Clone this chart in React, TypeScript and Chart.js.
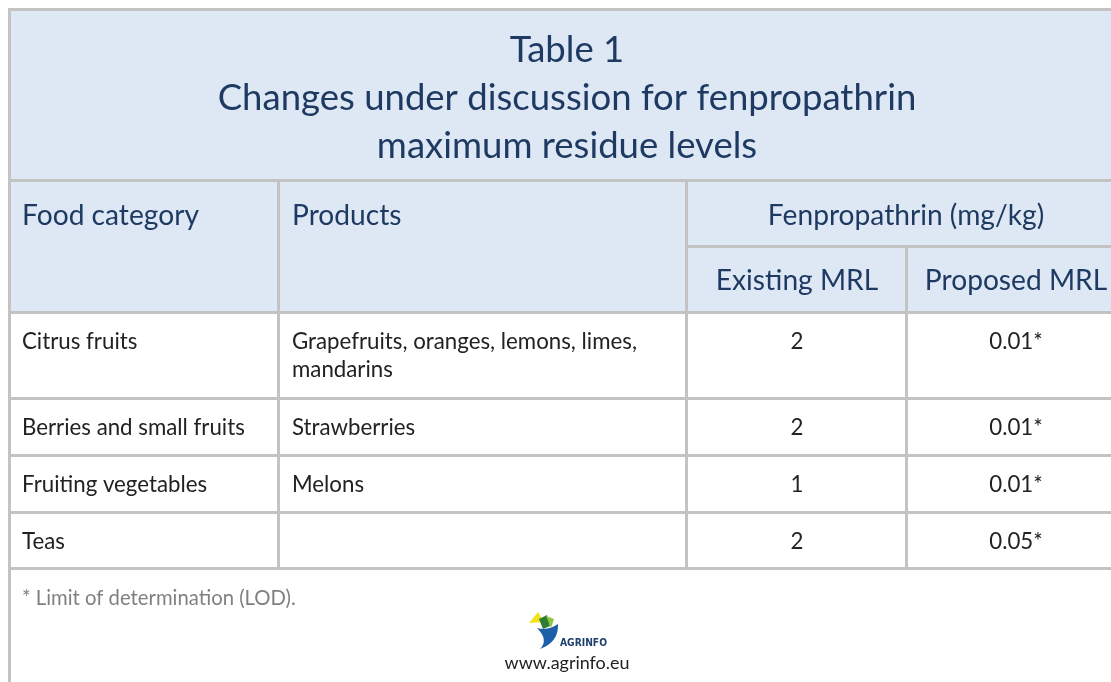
import React, { useEffect, useRef } from "react";
import { Chart, registerables } from "chart.js";

Chart.register(...registerables);

// ---- data ----
const titleLines = ["Table 1", "Changes under discussion for fenpropathrin", "maximum residue levels"];
const headerLabels = ["Food category", "Products", "Fenpropathrin (mg/kg)"];
const subHeaderLabels = ["Existing MRL", "Proposed MRL"];
const categories = ["Citrus fruits", "Berries and small fruits", "Fruiting vegetables", "Teas"];
const products = [["Grapefruits, oranges, lemons, limes,", "mandarins"], ["Strawberries"], ["Melons"], [""]];
const existingMRL = [2, 2, 1, 2];
const proposedMRL = [0.01, 0.01, 0.01, 0.05];
const proposedIsLOD = [true, true, true, true];
const footnote = "* Limit of determination (LOD).";
const logoText = "AGRINFO";
const urlText = "www.agrinfo.eu";

// ---- layout (page pixels) ----
const W = 1111;
const H = 682;
const L = {
  left: 8,
  right: 1127,
  top: 8,
  line: 3,
  titleBottom: 179,
  headerMid: 245,
  headerBottom: 311,
  rowBottoms: [397, 454, 511, 567],
  colLines: [277, 685, 905],
  textLeft: [22, 292],
  colCenters: [797, 1016],
  fenCenter: 906,
  titleCenterX: 567,
  titleY: [50, 98, 146],
  headerY: 216,
  subHeaderY: 281,
  rowTextY: [[342, 370], [428], [485], [542]],
  footY: 598,
  urlY: 663,
  logoTextX: 560,
  logoTextY: 643,
};

const FAMILY = "Lato, 'Open Sans', sans-serif";
const COLORS = {
  headerBg: "#dde8f4",
  grid: "#c3c3c3",
  navy: "#1f3a62",
  body: "#222222",
  foot: "#808080",
  url: "#222222",
};

function fitSize(ctx: CanvasRenderingContext2D, weight: string, family: string, text: string, width: number) {
  ctx.font = `${weight} 100px ${family}`;
  return (100 * width) / ctx.measureText(text).width;
}

const tablePlugin = {
  id: "tablePlugin",
  afterDraw(chart: any) {
    const ctx: CanvasRenderingContext2D = chart.ctx;
    const xs = chart.scales.x;
    const ys = chart.scales.y;
    const px = (v: number) => xs.getPixelForValue(v);
    const py = (v: number) => ys.getPixelForValue(v);
    const rect = (x0: number, y0: number, x1: number, y1: number, color: string) => {
      ctx.fillStyle = color;
      ctx.fillRect(px(x0), py(y0), px(x1) - px(x0), py(y1) - py(y0));
    };
    const poly = (pts: number[][], color: string) => {
      ctx.fillStyle = color;
      ctx.beginPath();
      pts.forEach(([a, b], i) => (i ? ctx.lineTo(px(a), py(b)) : ctx.moveTo(px(a), py(b))));
      ctx.closePath();
      ctx.fill();
    };
    ctx.save();

    // header background
    rect(L.left, L.top, L.right, L.headerBottom, COLORS.headerBg);

    // grid lines
    const g = COLORS.grid;
    const t = L.line;
    rect(L.left, L.top, L.right, L.top + t, g);
    rect(L.left, L.top, L.left + t, H, g);
    rect(L.right - t, L.top, L.right, H, g);
    rect(L.left, L.titleBottom, L.right, L.titleBottom + t, g);
    rect(L.colLines[1], L.headerMid, L.right, L.headerMid + t, g);
    rect(L.left, L.headerBottom, L.right, L.headerBottom + t, g);
    L.rowBottoms.forEach((yb) => rect(L.left, yb, L.right, yb + t, g));
    const lastRow = L.rowBottoms[L.rowBottoms.length - 1] + t;
    rect(L.colLines[0], L.titleBottom, L.colLines[0] + t, lastRow, g);
    rect(L.colLines[1], L.titleBottom, L.colLines[1] + t, lastRow, g);
    rect(L.colLines[2], L.headerMid, L.colLines[2] + t, lastRow, g);

    // text sizes fitted to the reference widths
    const titleSize = fitSize(ctx, "400", FAMILY, titleLines[1], 699);
    const headSize = fitSize(ctx, "400", FAMILY, headerLabels[0], 177);
    const bodySize = fitSize(ctx, "400", FAMILY, categories[1], 223);
    const footSize = fitSize(ctx, "400", FAMILY, footnote, 274);
    const urlSize = fitSize(ctx, "400", FAMILY, urlText, 125);
    const logoFamily = "'DejaVu Sans Condensed', 'Liberation Sans Narrow', sans-serif";
    const logoSize = fitSize(ctx, "700", logoFamily, logoText, 47);

    ctx.textBaseline = "middle";

    // title
    ctx.fillStyle = COLORS.navy;
    ctx.font = `400 ${titleSize}px ${FAMILY}`;
    ctx.textAlign = "center";
    titleLines.forEach((s, i) => ctx.fillText(s, px(L.titleCenterX), py(L.titleY[i])));

    // headers
    ctx.font = `400 ${headSize}px ${FAMILY}`;
    ctx.textAlign = "left";
    ctx.fillText(headerLabels[0], px(L.textLeft[0]), py(L.headerY));
    ctx.fillText(headerLabels[1], px(L.textLeft[1]), py(L.headerY));
    ctx.textAlign = "center";
    ctx.fillText(headerLabels[2], px(L.fenCenter), py(L.headerY));
    subHeaderLabels.forEach((s, i) => ctx.fillText(s, px(L.colCenters[i]), py(L.subHeaderY)));

    // body
    ctx.fillStyle = COLORS.body;
    ctx.font = `400 ${bodySize}px ${FAMILY}`;
    categories.forEach((cat, r) => {
      const ys0 = L.rowTextY[r];
      ctx.textAlign = "left";
      ctx.fillText(cat, px(L.textLeft[0]), py(ys0[0]));
      products[r].forEach((p, k) => ctx.fillText(p, px(L.textLeft[1]), py(ys0[k] ?? ys0[0])));
      ctx.textAlign = "center";
      ctx.fillText(String(existingMRL[r]), px(L.colCenters[0]), py(ys0[0]));
      const pv = proposedMRL[r].toFixed(2) + (proposedIsLOD[r] ? "*" : "");
      ctx.fillText(pv, px(L.colCenters[1]), py(ys0[0]));
    });

    // footnote
    ctx.fillStyle = COLORS.foot;
    ctx.font = `400 ${footSize}px ${FAMILY}`;
    ctx.textAlign = "left";
    ctx.fillText(footnote, px(L.textLeft[0]), py(L.footY));

    // logo (simplified)
    poly([[529, 623], [538, 612], [544, 622]], "#f0e31d");
    poly([[539, 619], [547, 615], [550, 626], [543, 629]], "#2f7d32");
    poly([[546, 616], [554, 619], [551, 628]], "#8cc63f");
    ctx.fillStyle = "#1c5fa8";
    ctx.beginPath();
    ctx.moveTo(px(537), py(628));
    ctx.quadraticCurveTo(px(548), py(631), px(558), py(624));
    ctx.quadraticCurveTo(px(559), py(642), px(540), py(649));
    ctx.quadraticCurveTo(px(549), py(640), px(537), py(628));
    ctx.closePath();
    ctx.fill();
    ctx.fillStyle = "#1b3f6b";
    ctx.font = `700 ${logoSize}px ${logoFamily}`;
    ctx.textAlign = "left";
    ctx.fillText(logoText, px(L.logoTextX), py(L.logoTextY));

    // url
    ctx.fillStyle = COLORS.url;
    ctx.font = `400 ${urlSize}px ${FAMILY}`;
    ctx.textAlign = "center";
    ctx.fillText(urlText, px(L.titleCenterX), py(L.urlY));

    ctx.restore();
  },
};

export default function App() {
  const ref = useRef<HTMLCanvasElement | null>(null);
  useEffect(() => {
    if (!ref.current) return;
    const chart = new Chart(ref.current, {
      type: "scatter",
      data: { datasets: [{ data: [] }] },
      options: {
        animation: false,
        responsive: false,
        events: [],
        layout: { padding: 0 },
        plugins: { legend: { display: false }, tooltip: { enabled: false }, title: { display: false } },
        scales: {
          x: { type: "linear", min: 0, max: W, display: false },
          y: { type: "linear", min: 0, max: H, reverse: true, display: false },
        },
      },
      plugins: [tablePlugin],
    });
    return () => chart.destroy();
  }, []);
  return (
    <div style={{ position: "fixed", left: 0, top: 0, width: W, height: H, background: "#ffffff" }}>
      <canvas ref={ref} width={W} height={H} style={{ display: "block" }} />
    </div>
  );
}
